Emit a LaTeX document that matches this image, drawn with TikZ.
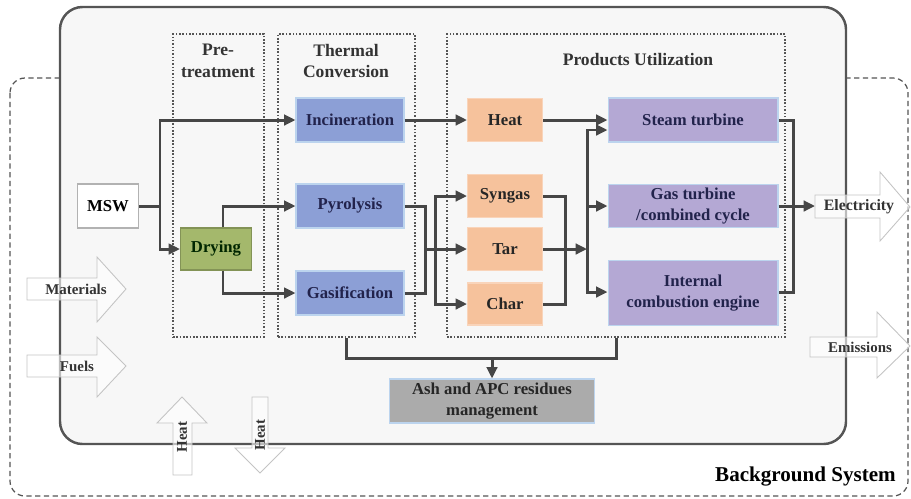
\documentclass[tikz,border=0pt]{standalone}
\usepackage{fontspec}
\setmainfont{Liberation Serif}
\usetikzlibrary{arrows.meta,positioning}

\definecolor{thermblue}{HTML}{8C9FD6}
\definecolor{prodorange}{HTML}{F6C29C}
\definecolor{utillilac}{HTML}{B4A8D4}
\definecolor{drygreen}{HTML}{A4B86C}
\definecolor{ashgray}{HTML}{ABABAB}
\definecolor{edgeblue}{HTML}{BCD4EE}
\definecolor{navytext}{HTML}{22234C}
\definecolor{flowgray}{HTML}{464646}
\definecolor{framegray}{HTML}{555555}
\definecolor{arrowedge}{HTML}{C4C4C4}

\tikzset{
  procbox/.style={minimum height=0.88cm, inner sep=1pt, align=center,
    font=\fontsize{9.5}{12}\selectfont\bfseries},
  thermbox/.style={procbox, fill=thermblue, draw=edgeblue, line width=0.6pt,
    text=navytext, minimum width=2.16cm},
  prodbox/.style={procbox, fill=prodorange, draw=prodorange!70!white, line width=0.6pt,
    text=black!85, minimum width=1.5cm, minimum height=0.86cm},
  utilbox/.style={procbox, fill=utillilac, draw=edgeblue, line width=0.6pt,
    text=navytext, minimum width=3.4cm},
  stage/.style={draw=framegray, densely dotted, line width=0.9pt, minimum height=6.06cm},
  stagetitle/.style={font=\fontsize{10}{12.5}\selectfont\bfseries, align=center, text=black!80},
  link/.style={draw=flowgray, line width=1.7pt},
  flow/.style={link, -{Triangle[length=6.5pt,width=6pt]}},
  bigarrow/.style={fill=white, fill opacity=0.6, draw=arrowedge, line width=0.5pt},
  arrowtext/.style={font=\fontsize{8.5}{10}\selectfont\bfseries, text=black!80}
}

\begin{document}
\begin{tikzpicture}[x=0.02cm,y=-0.02cm]
  \useasboundingbox (0,0) rectangle (911,498);

  % background system
  \draw[framegray, densely dashed, line width=0.7pt, rounded corners=0.3cm] (10,78) rectangle (908,496);
  \node[anchor=east, font=\fontsize{12}{14}\selectfont\bfseries] (bgsys) at (902,476) {Background System};

  % foreground system
  \draw[framegray, line width=1.4pt, fill=black!3, rounded corners=0.45cm] (60,7) rectangle (846,444);

  % stages
  \node[stage, minimum width=1.82cm] (pre) at (218.5,185.5) {};
  \node[stage, minimum width=2.74cm] (thermal) at (346.5,185.5) {};
  \node[stage, minimum width=6.76cm] (prod) at (616,185.5) {};
  \node[stagetitle] (pretitle) at (218,61) {Pre-\\treatment};
  \node[stagetitle] (thermtitle) at (346,61) {Thermal\\Conversion};
  \node[stagetitle] (prodtitle) at (638,60) {Products Utilization};

  % processes
  \node[procbox, fill=white, draw=black!30, line width=0.6pt, minimum width=1.22cm] (msw) at (108,206) {MSW};
  \node[procbox, fill=drygreen, draw=drygreen!80!black, line width=0.6pt, text=black!85!green,
        minimum width=1.42cm, minimum height=0.84cm] (dry) at (216,249) {Drying};
  \node[thermbox] (incin) at (350,120) {Incineration};
  \node[thermbox] (pyro) at (350,206) {Pyrolysis};
  \node[thermbox] (gasif) at (350,293) {Gasification};
  \node[prodbox] (heat) at (505,120) {Heat};
  \node[prodbox] (syngas) at (505,196) {Syngas};
  \node[prodbox] (tar) at (505,249) {Tar};
  \node[prodbox, minimum height=0.84cm] (char) at (505,304) {Char};
  \node[utilbox] (steam) at (693,120) {Steam turbine};
  \node[utilbox, minimum height=0.86cm] (gasturb) at (693,206) {Gas turbine\\/combined cycle};
  \node[utilbox, minimum height=1.3cm] (ice) at (693,293) {Internal\\combustion engine};
  \node[procbox, fill=ashgray, draw=edgeblue, line width=0.6pt, text=black!85,
        minimum width=4.1cm] (ash) at (492,401) {Ash and APC residues\\management};

  % junctions
  \coordinate (split) at (160,206);
  \coordinate (pj) at (425,249);
  \coordinate (tj) at (435,249);
  \coordinate (sj) at (565,249);
  \coordinate (uj) at (587,249);
  \coordinate (ej) at (793,206);
  \coordinate (ashj) at (492,358);
  \coordinate (elecin) at (815,206);

  % flows
  \draw[link] (msw.east) -- (split);
  \draw[flow] (split) |- (incin.west);
  \draw[flow] (split) |- (dry.west);
  \draw[flow] ([xshift=0.14cm]dry.north) |- (pyro.west);
  \draw[flow] ([xshift=0.14cm]dry.south) |- (gasif.west);
  \draw[flow] (incin.east) -- (heat.west);
  \draw[link] (pyro.east) -| (pj);
  \draw[link] (gasif.east) -| (pj);
  \draw[flow] (pj) -- (tar.west);
  \draw[flow] (tj) |- (syngas.west);
  \draw[flow] (tj) |- (char.west);
  \draw[link] (syngas.east) -| (sj);
  \draw[link] (char.east) -| (sj);
  \draw[flow] (tar.east) -- (uj);
  \draw[flow] (heat.east) -- (heat.east -| steam.west);
  \draw[flow] (uj) |- ([yshift=-0.2cm]steam.west);
  \draw[flow] (uj) |- (gasturb.west);
  \draw[flow] (uj) |- ([yshift=0.02cm]ice.west);
  \draw[link] (steam.east) -| (ej) |- ([yshift=0.02cm]ice.east);
  \draw[flow] (gasturb.east) -- (elecin);
  \draw[link] (thermal.south) |- (ashj) -| (prod.south);
  \draw[flow] (ashj) -- (ash.north);

  % inputs and outputs
  \draw[bigarrow] (27,278) -- (97,278) -- (97,257) -- (126,289) -- (97,322) -- (97,300) -- (27,300) -- cycle;
  \draw[bigarrow] (27,355) -- (97,355) -- (97,337) -- (126,366) -- (97,397) -- (97,377) -- (27,377) -- cycle;
  \draw[bigarrow] (815,195) -- (880,195) -- (880,172) -- (910,207) -- (880,241) -- (880,218) -- (815,218) -- cycle;
  \draw[bigarrow] (810,337) -- (877,337) -- (877,312) -- (910,346) -- (877,378) -- (877,357) -- (810,357) -- cycle;
  \draw[bigarrow] (173,475) -- (173,423) -- (157,423) -- (182,397) -- (207,423) -- (192,423) -- (192,475) -- cycle;
  \draw[bigarrow] (252,397) -- (268,397) -- (268,448) -- (285,448) -- (260,473) -- (235,448) -- (252,448) -- cycle;
  \node[arrowtext] (mat) at (76,289) {Materials};
  \node[arrowtext] (fuel) at (77,366) {Fuels};
  \node[arrowtext, font=\fontsize{9}{10}\selectfont\bfseries] (elec) at (859,207) {Electricity};
  \node[arrowtext] (emis) at (860,347) {Emissions};
  \node[arrowtext, rotate=90] (heatin) at (182,437) {Heat};
  \node[arrowtext, rotate=90] (heatout) at (260,435) {Heat};
\end{tikzpicture}
\end{document}
